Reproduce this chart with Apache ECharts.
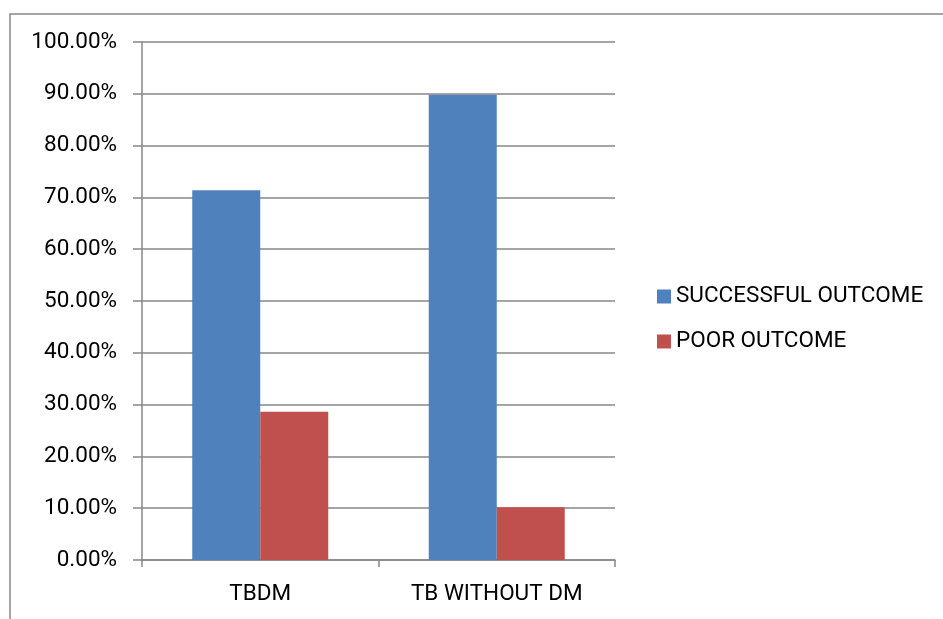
<!DOCTYPE html>
<html>
<head>
<meta charset="utf-8">
<script src="https://cdn.jsdelivr.net/npm/echarts@6/dist/echarts.min.js"></script>
<style>
  html, body { margin: 0; padding: 0; background: #fff; }
  #chart { width: 943px; height: 619px; }
</style>
</head>
<body>
<div id="chart"></div>
<script>
// Treatment outcome by group (percent of patients)
const categories = ['TBDM', 'TB WITHOUT DM'];
const successfulOutcome = [71.4, 89.8];
const poorOutcome = [28.6, 10.2];
const seriesNames = ['SUCCESSFUL OUTCOME', 'POOR OUTCOME'];

const FONT = 'Roboto';
const GRAY = '#878787';

const chart = echarts.init(document.getElementById('chart'), null, { renderer: 'canvas' });

chart.setOption({
  animation: false,
  color: ['#4F81BD', '#C0504D'],
  graphic: [{
    type: 'rect',
    silent: true,
    shape: { x: 10, y: 14, width: 1000, height: 1000 },
    style: { fill: 'none', stroke: GRAY, lineWidth: 1.5 }
  }],
  grid: { left: 142, right: 328, top: 42, bottom: 59, containLabel: false },
  legend: {
    orient: 'vertical',
    left: 657,
    top: 285,
    padding: 0,
    itemWidth: 14,
    itemHeight: 14,
    itemGap: 22,
    icon: 'rect',
    textStyle: { fontFamily: FONT, fontSize: 22.5, color: '#000' },
    data: seriesNames
  },
  xAxis: {
    type: 'category',
    data: categories,
    axisLine: { lineStyle: { color: GRAY, width: 1.5 } },
    axisTick: { show: true, length: 7, lineStyle: { color: GRAY, width: 1.5 } },
    axisLabel: { fontFamily: FONT, fontSize: 22.5, color: '#000', margin: 23 }
  },
  yAxis: {
    type: 'value',
    min: 0,
    max: 100,
    interval: 10,
    axisLine: { show: true, lineStyle: { color: GRAY, width: 1.5 } },
    axisTick: { show: true, length: 9, lineStyle: { color: GRAY, width: 1.5 } },
    splitLine: { show: true, lineStyle: { color: GRAY, width: 1.5 } },
    axisLabel: {
      fontFamily: FONT, fontSize: 22.5, color: '#000', margin: 25,
      formatter: v => v.toFixed(2) + '%'
    }
  },
  series: [
    { name: seriesNames[0], type: 'bar', data: successfulOutcome, barWidth: 68, barGap: '0%' },
    { name: seriesNames[1], type: 'bar', data: poorOutcome, barWidth: 68, barGap: '0%' }
  ]
});
</script>
</body>
</html>
